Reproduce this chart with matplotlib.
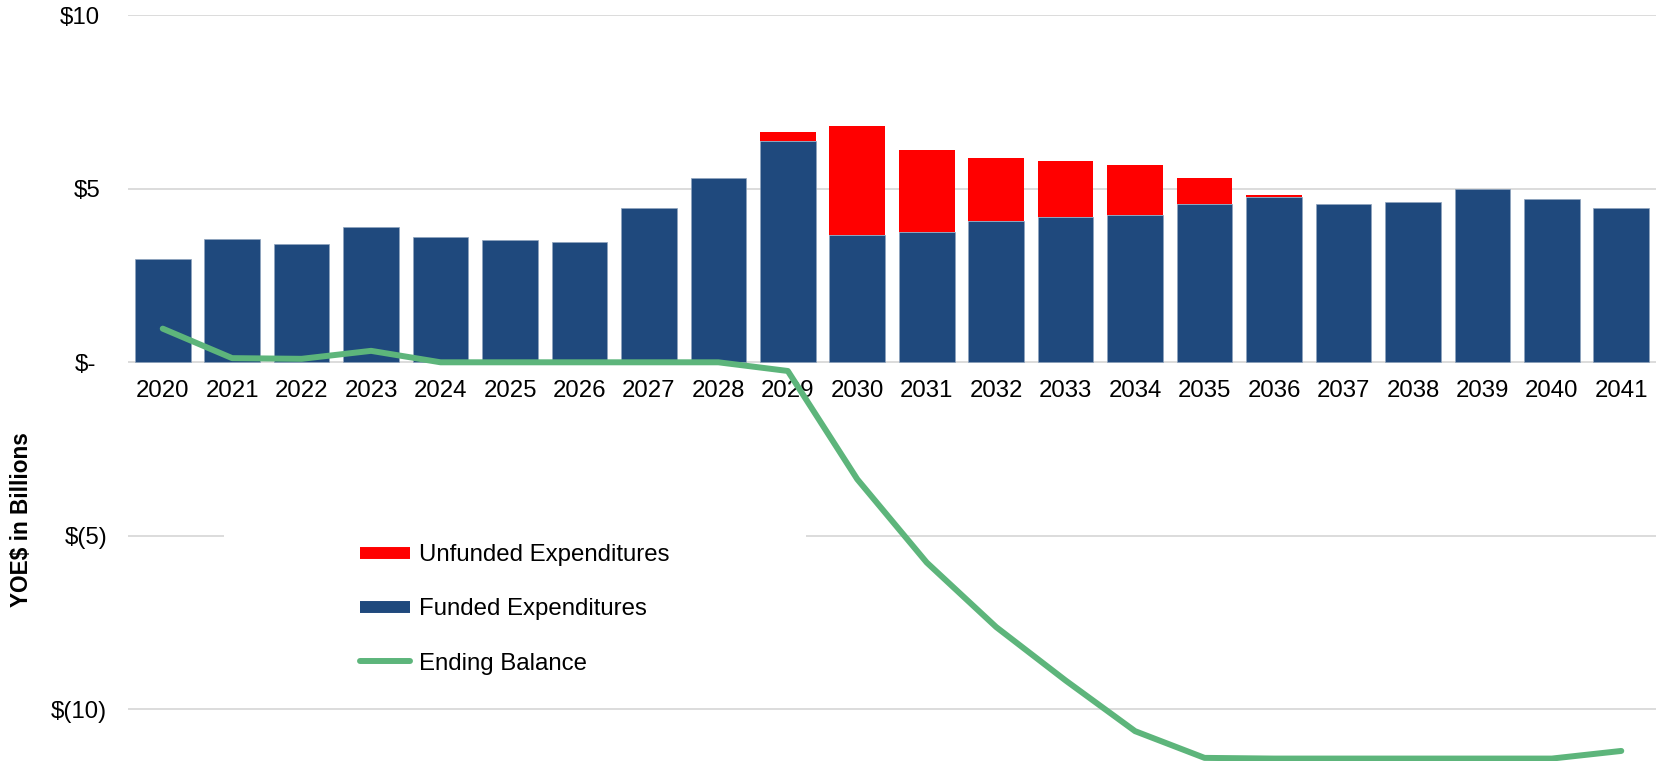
import numpy as np
import matplotlib
matplotlib.use("Agg")
import matplotlib.pyplot as plt
from matplotlib.lines import Line2D
from matplotlib.patches import Rectangle

plt.rcParams['font.family'] = ['Liberation Sans', 'DejaVu Sans']

# data (billions of YOE$)
years = list(range(2020, 2042))
funded = [2.97, 3.56, 3.40, 3.91, 3.62, 3.52, 3.48, 4.44, 5.31, 6.37,
          3.68, 3.75, 4.06, 4.20, 4.24, 4.55, 4.77, 4.55, 4.61, 5.00,
          4.70, 4.46]
unfunded = [0, 0, 0, 0, 0, 0, 0, 0, 0, 0.26,
            3.14, 2.37, 1.84, 1.60, 1.46, 0.77, 0.05, 0, 0, 0,
            0, 0]
ending_balance = [0.97, 0.12, 0.10, 0.33, 0.0, 0.0, 0.0, 0.0, 0.0, -0.25,
                  -3.37, -5.77, -7.63, -9.17, -10.63, -11.40, -11.42, -11.42,
                  -11.42, -11.42, -11.42, -11.20]
ytick_vals = [10, 5, 0, -5, -10]
ytick_labels = ['$10', '$5', '$-', '$(5)', '$(10)']
ytick_pads = [20, 20, 23, 15, 15]

blue = '#1f497d'
red = '#ff0000'
green = '#5db57b'
fs = 17.3

fig = plt.figure(figsize=(16.67, 7.61), dpi=100)
ax = fig.add_axes([128 / 1667, 0, (1656 - 128) / 1667, (761 - 15.3) / 761])

x = np.arange(len(years))
ax.bar(x, funded, width=0.8, color=blue, edgecolor='#8ea3bd', linewidth=0.5, zorder=2)
ax.bar(x, unfunded, width=0.8, bottom=funded, color=red, linewidth=0, zorder=2)
ax.plot(x, ending_balance, color=green, linewidth=4.3, solid_capstyle='round',
        solid_joinstyle='round', zorder=3)

ax.set_xlim(-0.5, len(years) - 0.5)
ax.set_ylim(-11.49, 10)

# gridlines
ax.set_yticks(ytick_vals)
ax.set_yticklabels(ytick_labels)
ax.yaxis.grid(True, color='#d9d9d9', linewidth=1.3, zorder=0)
ax.set_axisbelow(True)
for tick, pad in zip(ax.yaxis.get_major_ticks(), ytick_pads):
    tick.set_pad(pad)
ax.tick_params(axis='y', length=0, labelsize=fs, labelcolor='black')

ax.set_xticks(x)
ax.set_xticklabels([str(y) for y in years])
ax.tick_params(axis='x', length=0, labelsize=fs, labelcolor='black', pad=0)
# x labels sit just under the zero line
for lbl in ax.get_xticklabels():
    lbl.set_transform(ax.get_xaxis_transform())
    lbl.set_y((0 - (-11.49)) / (10 - (-11.49)) - 0.024)
    lbl.set_verticalalignment('top')

for s in ax.spines.values():
    s.set_visible(False)

# white box behind the legend hides the gridline
ax.add_patch(Rectangle((0.0628, 0.10), 0.381, 0.24, transform=ax.transAxes,
                       facecolor='white', edgecolor='none', zorder=1))

handles = [
    Line2D([0], [0], color=red, linewidth=8.6, solid_capstyle='butt'),
    Line2D([0], [0], color=blue, linewidth=8.6, solid_capstyle='butt'),
    Line2D([0], [0], color=green, linewidth=4.3, solid_capstyle='round'),
]
labels = ['Unfunded Expenditures', 'Funded Expenditures', 'Ending Balance']
fig.legend(handles, labels, loc='upper left', bbox_to_anchor=(360 / 1667, 1 - 544 / 761),
           frameon=False, fontsize=fs, handlelength=2.1, handletextpad=0.35,
           labelspacing=1.35, borderpad=0, borderaxespad=0)

fig.text(22 / 1667, 1 - 520 / 761, 'YOE$ in Billions', rotation=90, fontsize=16.3,
         fontweight='bold', ha='center', va='center')

fig.savefig('out.png', dpi=100)
